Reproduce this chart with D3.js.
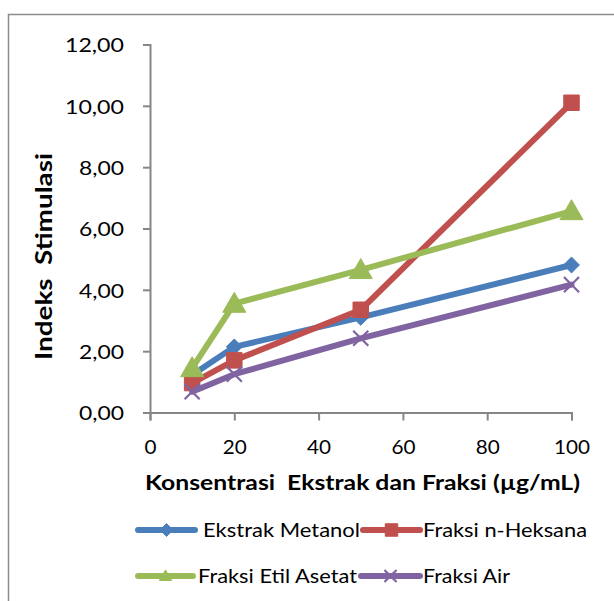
<!DOCTYPE html>
<html>
<head>
<meta charset="utf-8">
<script src="https://cdn.jsdelivr.net/npm/d3@7"></script>
<style>
  body { margin: 0; background: #fff; }
  svg text { font-family: Lato, "Open Sans", sans-serif; fill: #000; }
</style>
</head>
<body>
<div id="grafik"></div>
<script>
// data
const konsentrasi = [10, 20, 50, 100];
const ekstrakMetanol = [1.22, 2.14, 3.1, 4.81];
const fraksiHeksana = [0.96, 1.7, 3.35, 10.1];
const fraksiEtilAsetat = [1.45, 3.55, 4.65, 6.57];
const fraksiAir = [0.68, 1.25, 2.42, 4.17];
const namaSeri = ["Ekstrak Metanol", "Fraksi n-Heksana", "Fraksi Etil Asetat", "Fraksi Air"];
const yTicks = [0, 2, 4, 6, 8, 10, 12];
const xTicks = [0, 20, 40, 60, 80, 100];

function crtajGrafik()
{
    const sirina = 614, visina = 601;
    const boje = ["#4A7EBB", "#C0504D", "#9BBB59", "#8064A2"];
    const nizovi = [ekstrakMetanol, fraksiHeksana, fraksiEtilAsetat, fraksiAir];

    const serije = namaSeri.map((ime, i) => ({
        ime: ime,
        boja: boje[i],
        tocke: konsentrasi.map((k, j) => ({x: k, y: nizovi[i][j]}))
    }));

    const svg = d3.select("#grafik")
        .append("svg")
        .attr("width", sirina)
        .attr("height", visina);

    // outer chart border
    svg.append("rect")
        .attr("x", 8.5).attr("y", 14.5)
        .attr("width", 640).attr("height", 640)
        .attr("fill", "none")
        .attr("stroke", "#8c8c8c")
        .attr("stroke-width", 1.5);

    const x = d3.scaleLinear().domain([0, 100]).range([150, 571.5]);
    const y = d3.scaleLinear().domain([0, 12]).range([412.5, 44.5]);

    const loc = d3.formatLocale({decimal: ",", thousands: ".", grouping: [3], currency: ["", ""]});
    const fmt = loc.format(".2f");

    const yAxis = svg.append("g")
        .attr("transform", "translate(" + x(0) + ",0)")
        .call(d3.axisLeft(y).tickValues(yTicks).tickFormat(fmt).tickSize(7).tickPadding(19));
    const xAxis = svg.append("g")
        .attr("transform", "translate(0," + y(0) + ")")
        .call(d3.axisBottom(x).tickValues(xTicks).tickSize(8).tickPadding(0));

    [yAxis, xAxis].forEach(a => {
        a.select(".domain").attr("stroke", "#868686").attr("stroke-width", 2);
        a.selectAll(".tick line").attr("stroke", "#868686").attr("stroke-width", 2);
        a.selectAll(".tick text").style("font-size", "20px").attr("fill", "#000");
    });
    // widen the digits a bit, the original is stretched sideways
    yAxis.selectAll(".tick text")
        .attr("dy", "0.36em")
        .attr("lengthAdjust", "spacingAndGlyphs")
        .attr("textLength", d => d >= 10 ? 59 : 45);
    xAxis.selectAll(".tick text")
        .attr("y", 41).attr("dy", null)
        .attr("lengthAdjust", "spacingAndGlyphs")
        .attr("textLength", d => String(d).length * 12);

    // axis titles
    svg.append("text")
        .attr("transform", "translate(52,256.5) rotate(-90)")
        .attr("text-anchor", "middle")
        .attr("textLength", 207)
        .attr("lengthAdjust", "spacingAndGlyphs")
        .style("font-size", "22px")
        .style("font-weight", "bold")
        .style("white-space", "pre")
        .text("Indeks  Stimulasi");

    svg.append("text")
        .attr("x", 362.5).attr("y", 490)
        .attr("text-anchor", "middle")
        .attr("textLength", 435)
        .attr("lengthAdjust", "spacingAndGlyphs")
        .style("font-size", "20px")
        .style("font-weight", "bold")
        .style("white-space", "pre")
        .text("Konsentrasi  Ekstrak dan Fraksi (\u00b5g/mL)");

    const line = d3.line().x(d => x(d.x)).y(d => y(d.y));

    const oblici = [
        d3.symbolDiamond2 || d3.symbolSquare,
        d3.symbolSquare,
        d3.symbolTriangle,
        d3.symbolTimes || d3.symbolCross
    ];
    const velicine = [160, 240, 230, 150];

    function marker(sel, i, k) {
        const sym = d3.symbol().type(oblici[i]).size(velicine[i] * k);
        if (i === 3) {
            sel.attr("d", sym).attr("fill", "none")
                .attr("stroke", boje[i]).attr("stroke-width", 2.2);
        } else {
            sel.attr("d", sym).attr("fill", boje[i]).attr("stroke", boje[i]).attr("stroke-width", 1);
        }
    }

    const grupe = svg.selectAll(".serija")
        .data(serije)
        .enter()
        .append("g")
        .attr("class", "serija");

    grupe.append("path")
        .attr("d", d => line(d.tocke))
        .attr("fill", "none")
        .attr("stroke", d => d.boja)
        .attr("stroke-width", 6)
        .attr("stroke-linejoin", "round")
        .attr("stroke-linecap", "round");

    grupe.each(function(d, i) {
        d3.select(this).selectAll(".tocka")
            .data(d.tocke)
            .enter()
            .append("path")
            .attr("class", "tocka")
            .attr("transform", p => "translate(" + x(p.x) + "," + y(p.y) + ")" + (i === 2 ? " translate(0,2)" : ""))
            .call(sel => marker(sel, i, 1));
    });

    // legend
    const legPoz = [
        {x1: 138, x2: 195, ty: 530, tx: 203, w: 157},
        {x1: 363, x2: 420, ty: 530, tx: 423, w: 164},
        {x1: 138, x2: 193, ty: 576, tx: 198, w: 159},
        {x1: 361, x2: 420, ty: 576, tx: 423, w: 87}
    ];
    const legend = svg.selectAll(".legend")
        .data(serije)
        .enter()
        .append("g")
        .attr("class", "legend");

    legend.append("line")
        .attr("x1", (d, i) => legPoz[i].x1)
        .attr("x2", (d, i) => legPoz[i].x2)
        .attr("y1", (d, i) => legPoz[i].ty)
        .attr("y2", (d, i) => legPoz[i].ty)
        .attr("stroke", d => d.boja)
        .attr("stroke-width", 6)
        .attr("stroke-linecap", "round");

    legend.append("path")
        .attr("transform", (d, i) => "translate(" + (legPoz[i].x1 + legPoz[i].x2) / 2 + "," + (legPoz[i].ty + (i === 2 ? 1 : 0)) + ")")
        .each(function(d, i) { marker(d3.select(this), i, i === 2 ? 0.28 : 0.65); });

    legend.append("text")
        .attr("x", (d, i) => legPoz[i].tx)
        .attr("y", (d, i) => legPoz[i].ty + 7)
        .attr("textLength", (d, i) => legPoz[i].w)
        .attr("lengthAdjust", "spacingAndGlyphs")
        .style("font-size", "20px")
        .text(d => d.ime);
}
crtajGrafik();
</script>
</body>
</html>
